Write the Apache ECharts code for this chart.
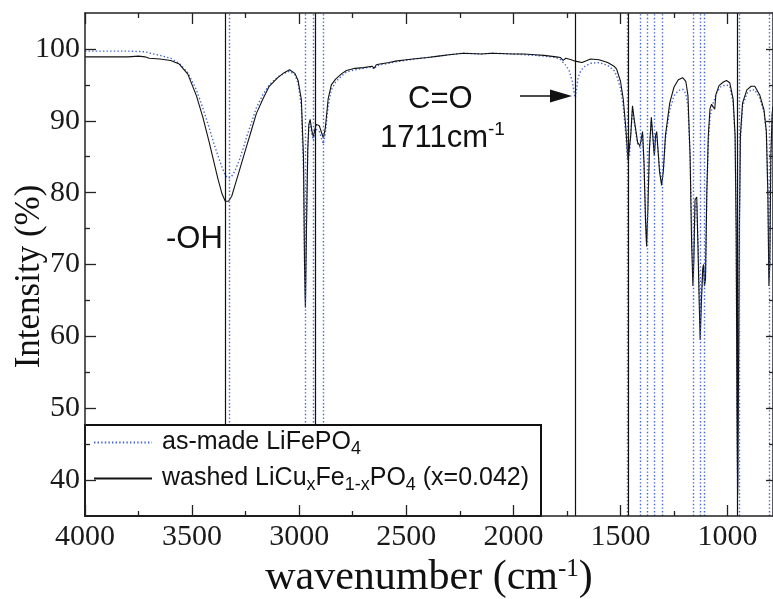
<!DOCTYPE html>
<html>
<head>
<meta charset="utf-8">
<script src="https://cdn.jsdelivr.net/npm/echarts@6/dist/echarts.min.js"></script>
<style>html,body{margin:0;padding:0;background:#fff}#c{width:773px;height:599px}</style>
</head>
<body>
<div id="c"></div>
<script>
// ---- data ----
var xTicksMajor = [1000, 1500, 2000, 2500, 3000, 3500, 4000];
var xTicksMinor = [1250, 1750, 2250, 2750, 3250, 3750];
var yTicksMajor = [40, 50, 60, 70, 80, 90, 100];
var yTicksMinor = [45, 55, 65, 75, 85, 95];

var seriesNames = ['as-made LiFePO4', 'washed LiCuxFe1-xPO4 (x=0.042)'];

var washedData = [
[4000,98.9],[3900,98.9],[3800,98.9],[3750,99.0],[3720,98.9],[3700,98.7],[3650,98.6],[3600,98.4],[3560,97.9],[3520,96.5],
[3480,93.5],[3450,90.5],[3420,87],[3400,84.5],[3380,82],[3360,79.8],[3345,78.8],[3330,78.8],[3315,79.5],[3300,81],
[3280,83],[3260,85],[3245,86.5],[3220,89],[3200,91],[3170,93],[3140,94.8],[3100,96],[3070,96.7],[3045,97.1],
[3020,96.6],[3005,95.6],[2990,93],[2980,85],[2975,70],[2971,64],[2966,75],[2960,86],[2955,89.5],[2949,90.2],
[2940,88.5],[2934,87.8],[2927,88.8],[2920,89.5],[2906,89.3],[2895,88.3],[2887,87.6],[2878,89],[2865,93],[2850,95],
[2830,95.8],[2800,96.6],[2779,97],[2740,97.3],[2700,97.4],[2660,97.6],[2650,97.3],[2640,97.8],[2623,97.9],[2580,98.1],
[2550,98.3],[2500,98.5],[2468,98.6],[2400,98.8],[2350,99.0],[2300,99.2],[2234,99.4],[2150,99.3],[2100,99.4],[2000,99.3],
[1950,99.3],[1900,99.2],[1857,99.1],[1800,98.9],[1780,98.8],[1768,98.4],[1755,98.7],[1730,98.5],[1711,98.3],[1695,98.2],
[1680,98.1],[1665,98.3],[1640,98.6],[1600,98.5],[1560,98.1],[1530,97.6],[1518,97.2],[1500,95.5],[1487,93],[1475,89],
[1465,84.5],[1458,84.3],[1452,88],[1444,92.1],[1435,90],[1420,87],[1409,86.5],[1400,88],[1397,88.5],[1390,84],
[1383,76],[1378,72.5],[1372,78],[1365,86],[1356,90.5],[1351,90.7],[1342,85.1],[1336,88],[1331,88.5],[1325,86],
[1318,83],[1308,81],[1300,83],[1290,88],[1270,92.5],[1250,94.7],[1230,95.7],[1210,96],[1195,95.5],[1185,93.5],
[1175,85],[1168,73],[1162,67],[1158,70],[1152,79],[1144,79.4],[1138,72],[1132,64],[1128,59.5],[1122,65],
[1116,69.5],[1112,70],[1108,67],[1103,68],[1097,80],[1090,88],[1082,91.7],[1075,92.3],[1060,91.6],[1055,93.6],
[1040,94.9],[1020,95.4],[1005,95.6],[990,95.3],[974,93],[965,88],[960,75],[956,50],[953,38],[950,50],
[945,75],[940,88],[930,92.5],[910,94.3],[890,94.8],[873,94.8],[850,93.6],[830,91.5],[819,88.5],[812,80],
[807,67],[803,70],[798,85],[792,91],[788,92]
];

var asMadeData = [
[4000,99.7],[3900,99.7],[3800,99.7],[3720,99.6],[3680,99.3],[3650,99.1],[3600,98.7],[3560,98.0],[3520,96.7],[3480,94.3],
[3450,91.8],[3420,89],[3400,87],[3380,85.2],[3360,83.5],[3345,82.4],[3330,82],[3315,82.3],[3300,83],[3280,84.5],
[3260,86.3],[3245,87.8],[3220,90],[3200,91.8],[3170,93.6],[3140,95],[3100,96.1],[3070,96.6],[3045,96.9],[3020,96.4],
[3005,95.2],[2990,92],[2980,83],[2975,70],[2971,65],[2966,76],[2960,86],[2955,89],[2949,89.6],[2940,88],
[2934,87.3],[2927,88.3],[2920,88.8],[2906,88.5],[2895,87.5],[2887,86.8],[2878,88.3],[2865,92],[2850,94.3],[2830,95.4],
[2800,96.3],[2779,96.8],[2740,97.1],[2700,97.3],[2660,97.5],[2650,97.2],[2640,97.6],[2623,97.8],[2580,98.0],[2550,98.2],
[2500,98.4],[2468,98.6],[2400,98.8],[2350,99.0],[2300,99.2],[2234,99.4],[2150,99.3],[2100,99.4],[2000,99.3],[1950,99.2],
[1900,99.1],[1857,99.0],[1800,98.8],[1780,98.5],[1760,97.9],[1740,97.0],[1725,95.5],[1716,93.8],[1711,93.2],[1706,94.2],
[1698,96.0],[1685,97.0],[1665,97.6],[1640,98.0],[1600,98.1],[1560,97.7],[1530,97.0],[1518,96.3],[1500,94.5],[1487,92],
[1475,88],[1467,84.5],[1458,85],[1452,88.5],[1444,91.5],[1435,89.5],[1420,86.8],[1409,86.3],[1400,87.5],[1397,88],
[1390,83.5],[1383,76],[1378,73],[1372,78],[1365,86],[1356,90],[1351,90.2],[1342,85.5],[1336,87.8],[1331,88.2],
[1325,86],[1318,83.5],[1308,81.5],[1300,83],[1290,87.5],[1270,91.5],[1250,93.5],[1230,94.2],[1210,94.4],[1195,93.8],
[1185,92],[1175,85],[1168,75],[1162,69],[1158,71],[1152,78],[1144,78.5],[1138,73],[1132,66],[1128,62],
[1122,66],[1116,69],[1112,69.5],[1108,68],[1103,69],[1097,80],[1090,87],[1082,90.5],[1067,92.5],[1050,94],
[1030,94.8],[1005,95.0],[990,94.8],[974,92.5],[965,87.5],[960,75],[956,50],[953,39],[950,50],[945,75],
[940,87.5],[930,92],[910,93.8],[890,94.3],[873,94.3],[850,93.2],[830,91.2],[819,88.3],[812,80],[807,68],
[803,70.5],[798,85],[792,90.5],[788,91.5]
];

var solidMarks = [3343, 2923, 1709, 1462, 953];
var dottedMarks = [3328, 2973, 2934, 2887, 1467, 1409, 1375, 1342, 1305, 1158, 1127, 1109, 945, 805];

// ---- chart ----
var BLUE = '#4466cc';
var serif = 'Liberation Serif';
var sans = 'Liberation Sans';
var chart = echarts.init(document.getElementById('c'), null, {renderer: 'canvas'});
function plain(v) { return String(v); }

function xAxisDef(pos, ticks, len, showLabel, showLine, name) {
  var a = {
    type: 'value', position: pos, inverse: true, min: 788, max: 4000, z: 60,
    splitLine: {show: false},
    axisLine: {show: showLine, lineStyle: {color: '#222', width: 1.5}},
    axisTick: {show: true, inside: true, length: len, customValues: ticks, lineStyle: {color: '#222', width: 1.3}},
    axisLabel: showLabel ? {show: true, customValues: ticks, formatter: plain, fontFamily: serif, fontSize: 30, color: '#1a1a1a', margin: 6} : {show: false}
  };
  if (name) {
    a.name = name;
    a.nameLocation = 'middle';
    a.nameGap = 38;
    a.nameTextStyle = {fontFamily: serif, fontSize: 42, color: '#111',
      rich: {m: {fontFamily: serif, fontSize: 42, color: '#111'}, p: {fontFamily: serif, fontSize: 25, color: '#111', verticalAlign: 'top', lineHeight: 21}}};
  }
  return a;
}
function yAxisDef(pos, ticks, len, showLabel, showLine, name) {
  var a = {
    type: 'value', position: pos, min: 35, max: 105, z: 60,
    splitLine: {show: false},
    axisLine: {show: showLine, lineStyle: {color: '#222', width: 1.5}},
    axisTick: {show: true, inside: true, length: len, customValues: ticks, lineStyle: {color: '#222', width: 1.3}},
    axisLabel: showLabel ? {show: true, customValues: ticks, formatter: plain, fontFamily: serif, fontSize: 30, color: '#1a1a1a', margin: 5} : {show: false}
  };
  if (name) {
    a.name = name;
    a.nameLocation = 'middle';
    a.nameGap = 38;
    a.nameMoveOverlap = false;
    a.nameRotate = 90;
    a.nameTextStyle = {fontFamily: serif, fontSize: 35, color: '#111', padding: [0, 24, 0, 0]};
  }
  return a;
}

var option = {
  animation: false,
  backgroundColor: '#fff',
  grid: {left: 85, right: 0, top: 13, bottom: 83, containLabel: false, outerBoundsMode: 'none'},
  xAxis: [
    xAxisDef('bottom', xTicksMajor, 11, true, true, '{m|wavenumber (cm}{p|-1}{m|)}'),
    xAxisDef('bottom', xTicksMinor, 5, false, false),
    xAxisDef('top', xTicksMajor, 11, false, true),
    xAxisDef('top', xTicksMinor, 5, false, false)
  ],
  yAxis: [
    yAxisDef('left', yTicksMajor, 11, true, true, 'Intensity (%)'),
    yAxisDef('left', yTicksMinor, 5, false, false),
    yAxisDef('right', yTicksMajor, 7, false, true),
    yAxisDef('right', yTicksMinor, 4, false, false)
  ],
  legend: {
    show: true, orient: 'vertical', left: 93, top: 430, padding: 0, itemGap: 8,
    itemWidth: 58, itemHeight: 14, z: 80,
    itemStyle: {opacity: 0, borderWidth: 0},
    data: seriesNames,
    textStyle: {fontFamily: sans, fontSize: 25, color: '#111', padding: [0, 0, 0, 5],
      rich: {a: {fontFamily: sans, fontSize: 25, color: '#111', lineHeight: 31},
             s: {fontFamily: sans, fontSize: 18, color: '#111', lineHeight: 15, verticalAlign: 'bottom'}}},
    formatter: function (n) {
      if (n === seriesNames[0]) return '{a|as-made LiFePO}{s|4}';
      return '{a|washed LiCu}{s|x}{a|Fe}{s|1-x}{a|PO}{s|4}{a| (x=0.042)}';
    }
  },
  graphic: [
    {type: 'rect', z: 50, shape: {x: 85, y: 425, width: 456, height: 91},
     style: {fill: '#fff', stroke: '#111', lineWidth: 2}},
    {type: 'text', z: 70, left: 408, top: 84,
     style: {text: 'C=O', fontFamily: sans, fontSize: 31, fill: '#111'}},
    {type: 'text', z: 70, left: 380, top: 120,
     style: {text: '{a|1711cm}{p|-1}', fontFamily: sans, fontSize: 31, fill: '#111',
       rich: {a: {fontFamily: sans, fontSize: 31, fill: '#111', lineHeight: 36}, p: {fontFamily: sans, fontSize: 19, fill: '#111', verticalAlign: 'top', lineHeight: 18}}}},
    {type: 'text', z: 70, left: 166, top: 224,
     style: {text: '-OH', fontFamily: sans, fontSize: 31, fill: '#111'}},
    {type: 'line', z: 70, shape: {x1: 520, y1: 96, x2: 552, y2: 96}, style: {stroke: '#111', lineWidth: 1.5}},
    {type: 'polygon', z: 70, shape: {points: [[550, 89.5], [572, 96], [550, 102.5]]}, style: {fill: '#111'}}
  ],
  series: [
    {
      name: seriesNames[0], type: 'line', data: asMadeData, symbol: 'none', showSymbol: false,
      lineStyle: {color: BLUE, width: 1.4, type: [1.4, 2.2]}, itemStyle: {color: BLUE}, z: 3,
      markLine: {silent: true, symbol: ['none', 'none'], label: {show: false},
        lineStyle: {color: BLUE, width: 1.4, type: [1.4, 2.2]},
        data: dottedMarks.map(function (v) { return {xAxis: v}; })}
    },
    {
      name: seriesNames[1], type: 'line', data: washedData, symbol: 'none', showSymbol: false,
      lineStyle: {color: '#111', width: 1.1, type: 'solid'}, itemStyle: {color: '#111'}, z: 4,
      markLine: {silent: true, symbol: ['none', 'none'], label: {show: false},
        lineStyle: {color: '#111', width: 1.2, type: 'solid'},
        data: solidMarks.map(function (v) { return {xAxis: v}; })}
    }
  ]
};
chart.setOption(option);
</script>
</body>
</html>
